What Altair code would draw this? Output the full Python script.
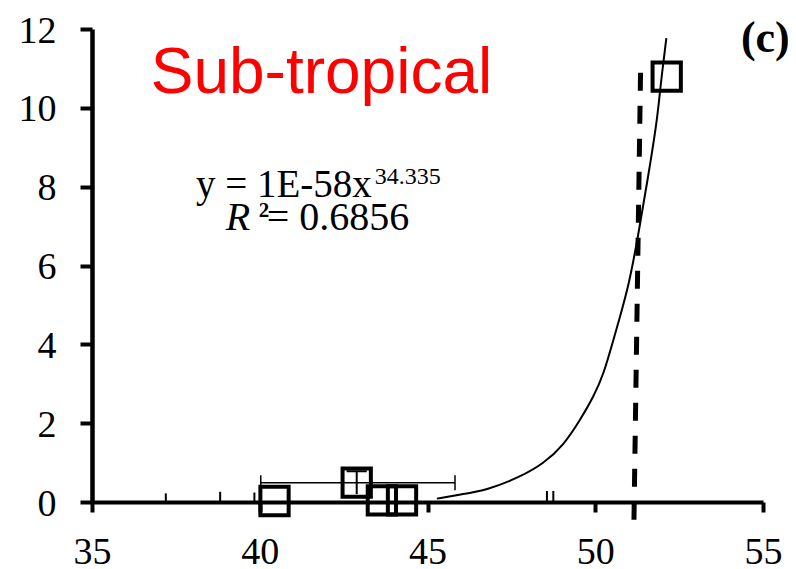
import altair as alt
import pandas as pd

# ---- data ----
sq_x = [40.44, 42.89, 43.64, 44.24, 52.13]
sq_y = [0.025, 0.49, 0.04, 0.04, 10.79]

curve_x = [45.28, 45.97, 46.77, 47.76, 48.46, 49.06, 49.55, 49.95, 50.26,
           50.55, 51.0, 51.29, 51.56, 51.85, 51.94, 52.12]
curve_y = [0.086, 0.19, 0.30, 0.635, 0.975, 1.44, 2.08, 2.67, 3.26,
           4.15, 5.46, 6.82, 8.17, 9.70, 10.54, 11.77]

# horizontal error bar of the 2nd point
herr_lo = [40.03]
herr_hi = [45.82]
herr_y = [0.49]
herr_cap_lo = [0.30]
herr_cap_hi = [0.68]
# vertical error bar of the 2nd point
verr_x = [42.89]
verr_lo = [0.20]
verr_hi = [0.78]
verr_cap_l = [42.59]
verr_cap_r = [43.19]

# dashed threshold line (slightly slanted)
dash_x_top = [51.35]
dash_y_top = [10.89]
dash_x_bot = [51.15]
dash_y_bot = [-0.675]

# small stray tick marks on the x axis
stray_x = [37.2, 38.82, 39.84, 48.56, 48.75]
stray_top = [0.22, 0.26, 0.24, 0.28, 0.28]

x_ticks = [35, 40, 45, 50, 55]
y_ticks = [0, 2, 4, 6, 8, 10, 12]

SERIF = "Liberation Serif"
SANS = "Liberation Sans"

xs = alt.Scale(domain=[35, 55], nice=False, zero=False)
ys = alt.Scale(domain=[0, 12], nice=False, zero=False)

x_axis = alt.Axis(values=x_ticks, title=None, grid=False, domainColor="black",
                  domainWidth=4, tickColor="black", tickWidth=4, tickSize=10,
                  labelFont=SERIF, labelFontSize=38, labelColor="black",
                  labelPadding=51, labelBaseline="alphabetic", labelFlush=False,
                  labelOverlap=False, labelBound=False)
y_axis = alt.Axis(values=y_ticks, title=None, grid=False, domainColor="black",
                  domainWidth=4.5, tickColor="black", tickWidth=4, tickSize=12,
                  labelFont=SERIF, labelFontSize=38, labelColor="black",
                  labelPadding=24, labelBaseline="alphabetic", labelOffset=13,
                  labelOverlap=False, labelBound=False)

curve_df = pd.DataFrame({"x": curve_x, "y": curve_y})
curve = alt.Chart(curve_df).mark_line(color="black", strokeWidth=2, interpolate="basis").encode(
    x=alt.X("x:Q", scale=xs, axis=x_axis),
    y=alt.Y("y:Q", scale=ys, axis=y_axis),
)

stray_df = pd.DataFrame({"x": stray_x, "y0": [0] * len(stray_x), "y1": stray_top})
stray = alt.Chart(stray_df).mark_rule(color="black", strokeWidth=2).encode(
    x=alt.X("x:Q", scale=xs), y=alt.Y("y0:Q", scale=ys), y2="y1:Q")

herr_df = pd.DataFrame({"lo": herr_lo, "hi": herr_hi, "y": herr_y})
herr = alt.Chart(herr_df).mark_rule(color="black", strokeWidth=1.5).encode(
    x=alt.X("lo:Q", scale=xs), x2="hi:Q", y=alt.Y("y:Q", scale=ys))
caps_df = pd.DataFrame({"x": herr_lo + herr_hi, "a": herr_cap_lo * 2, "b": herr_cap_hi * 2})
hcaps = alt.Chart(caps_df).mark_rule(color="black", strokeWidth=1.5).encode(
    x=alt.X("x:Q", scale=xs), y=alt.Y("a:Q", scale=ys), y2="b:Q")

verr_df = pd.DataFrame({"x": verr_x, "lo": verr_lo, "hi": verr_hi,
                        "l": verr_cap_l, "r": verr_cap_r})
vstem = alt.Chart(verr_df).mark_rule(color="black", strokeWidth=2).encode(
    x=alt.X("x:Q", scale=xs), y=alt.Y("lo:Q", scale=ys), y2="hi:Q")
vcap = alt.Chart(verr_df).mark_rule(color="black", strokeWidth=2).encode(
    x=alt.X("l:Q", scale=xs), x2="r:Q", y=alt.Y("hi:Q", scale=ys))

dash_df = pd.DataFrame({"x1": dash_x_top, "y1": dash_y_top, "x2": dash_x_bot, "y2": dash_y_bot})
dash = alt.Chart(dash_df).mark_rule(color="black", strokeWidth=5, strokeDash=[18, 15]).encode(
    x=alt.X("x1:Q", scale=xs), y=alt.Y("y1:Q", scale=ys), x2="x2:Q", y2="y2:Q")

sq_df = pd.DataFrame({"x": sq_x, "y": sq_y})
squares = alt.Chart(sq_df).mark_point(shape="square", filled=False, size=800,
                                      strokeWidth=4, color="black", opacity=1).encode(
    x=alt.X("x:Q", scale=xs), y=alt.Y("y:Q", scale=ys))

# ---- annotations (positions in data units) ----
def txt(x, y, s, **kw):
    df = pd.DataFrame({"x": [x], "y": [y], "t": [s]})
    return alt.Chart(df).mark_text(baseline="alphabetic", **kw).encode(
        x=alt.X("x:Q", scale=xs), y=alt.Y("y:Q", scale=ys), text="t:N")

title = txt(41.84, 10.38, "Sub-tropical", font=SANS, fontSize=64, color="#FF0000", align="center")
eq1 = txt(43.34, 7.74, "y = 1E-58x", font=SERIF, fontSize=39, color="black", align="right")
eq1s = txt(43.43, 8.06, "34.335", font=SERIF, fontSize=24, color="black", align="left")
r_l = txt(38.99, 6.90, "R", font=SERIF, fontSize=40, fontStyle="italic", color="black", align="left")
r_2 = txt(39.97, 7.24, "2", font=SERIF, fontSize=21, fontWeight="bold", color="black", align="left")
r_v = txt(40.21, 6.90, "= 0.6856", font=SERIF, fontSize=40, color="black", align="left")
panel = txt(55.07, 11.42, "(c)", font=SERIF, fontSize=44, fontWeight="bold", color="black", align="center")

chart = alt.layer(
    curve, stray, herr, hcaps, vstem, vcap, dash, squares,
    title, eq1, eq1s, r_l, r_2, r_v, panel
).properties(
    width=671, height=473,
    padding={"left": 92, "top": 29, "right": 33, "bottom": 67},
    autosize=alt.AutoSizeParams(type="none"),
    background="white",
).configure_view(stroke=None)

chart.save("out.html", embed_options={"renderer": "svg", "actions": False})
